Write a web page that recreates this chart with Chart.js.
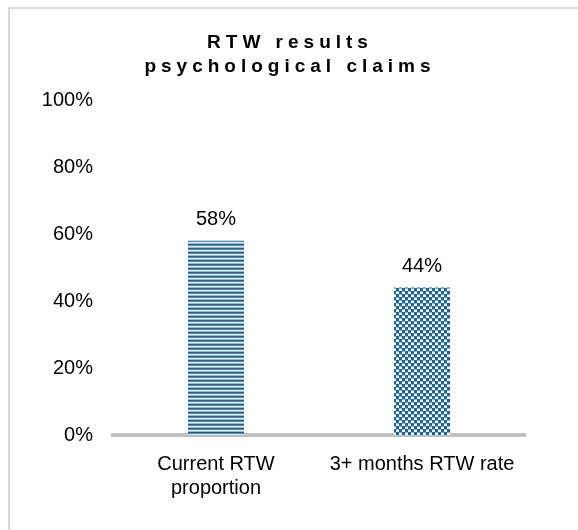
<!DOCTYPE html>
<html>
<head>
<meta charset="utf-8">
<script src="https://cdn.jsdelivr.net/npm/chart.js@4.4.1/dist/chart.umd.min.js"></script>
<style>
  html, body { margin: 0; padding: 0; background: #fff; overflow: hidden; }
  #frame { position: absolute; left: 8px; top: 7px; width: 640px; height: 600px; border: 2px solid #d9d9d9; }
  #wrap { position: absolute; left: 0; top: 0; width: 578px; height: 530px; }
</style>
</head>
<body>
<div id="frame"></div>
<div id="wrap"><canvas id="rtwChart" width="578" height="530"></canvas></div>
<script>
const titleLines = ['RTW results', 'psychological claims'];
const categories = [['Current RTW', 'proportion'], '3+ months RTW rate'];
const values = [58, 44];
const valueLabels = ['58%', '44%'];
const yTicks = [0, 20, 40, 60, 80, 100];

// motifs de remplissage (rayures / damier)
function makePattern(size, draw) {
    const c = document.createElement('canvas');
    c.width = size; c.height = size;
    draw(c.getContext('2d'));
    return c.getContext('2d').createPattern(c, 'repeat');
}
const stripes = makePattern(4, ctx => {
    const rows = ['#245f88', '#5a8db0', '#dfeaf2', '#9bbbd1'];
    rows.forEach((col, i) => { ctx.fillStyle = col; ctx.fillRect(0, i, 4, 1); });
});
const checker = makePattern(6, ctx => {
    ctx.fillStyle = '#eef4f8'; ctx.fillRect(0, 0, 6, 6);
    ctx.fillStyle = '#21658f';
    ctx.fillRect(0, 0, 3, 3); ctx.fillRect(3, 3, 3, 3);
    ctx.fillStyle = '#8fb2c9';
    ctx.fillRect(3, 0, 3, 1); ctx.fillRect(0, 3, 3, 1);
});

const FONT = "'Liberation Sans', Arial, sans-serif";

const titlePlugin = {
    id: 'spacedTitle',
    afterDraw(chart) {
        const ctx = chart.ctx;
        ctx.save();
        ctx.font = 'bold 19px ' + FONT;
        ctx.fillStyle = '#000';
        ctx.textAlign = 'center';
        ctx.textBaseline = 'alphabetic';
        ctx.letterSpacing = '5px';
        ctx.fillText(titleLines[0], chart.width / 2 + 1, 48);
        ctx.fillText(titleLines[1], chart.width / 2 + 1, 72);
        ctx.restore();
    }
};

const valuePlugin = {
    id: 'valueLabels',
    afterDatasetsDraw(chart) {
        const ctx = chart.ctx;
        const meta = chart.getDatasetMeta(0);
        ctx.save();
        ctx.font = '20px ' + FONT;
        ctx.fillStyle = '#000';
        ctx.textAlign = 'center';
        ctx.textBaseline = 'middle';
        meta.data.forEach((bar, i) => ctx.fillText(valueLabels[i], bar.x, bar.y - 21));
        ctx.restore();
    }
};

new Chart(document.getElementById('rtwChart'), {
    type: 'bar',
    data: {
        labels: categories,
        datasets: [{ data: values, backgroundColor: [stripes, checker], borderWidth: 0, barPercentage: 0.272, categoryPercentage: 1 }]
    },
    options: {
        responsive: false,
        animation: false,
        events: [],
        layout: { padding: { top: 100, right: 53, bottom: 0, left: 0 } },
        plugins: { legend: { display: false }, title: { display: false }, tooltip: { enabled: false } },
        scales: {
            x: {
                grid: { display: false },
                border: { display: true, color: '#bfbfbf', width: 4 },
                ticks: { color: '#000', font: { family: FONT, size: 20, lineHeight: 1.2 }, padding: 9, maxRotation: 0 },
                afterFit: s => { s.height = 95; }
            },
            y: {
                min: 0, max: 100,
                grid: { display: false },
                border: { display: false },
                ticks: { stepSize: 20, color: '#000', font: { family: FONT, size: 20 }, padding: 12, callback: v => v + '%' },
                afterBuildTicks: s => { s.ticks = yTicks.map(v => ({ value: v })); },
                afterFit: s => { s.width = 113; }
            }
        }
    },
    plugins: [titlePlugin, valuePlugin]
});
</script>
</body>
</html>
